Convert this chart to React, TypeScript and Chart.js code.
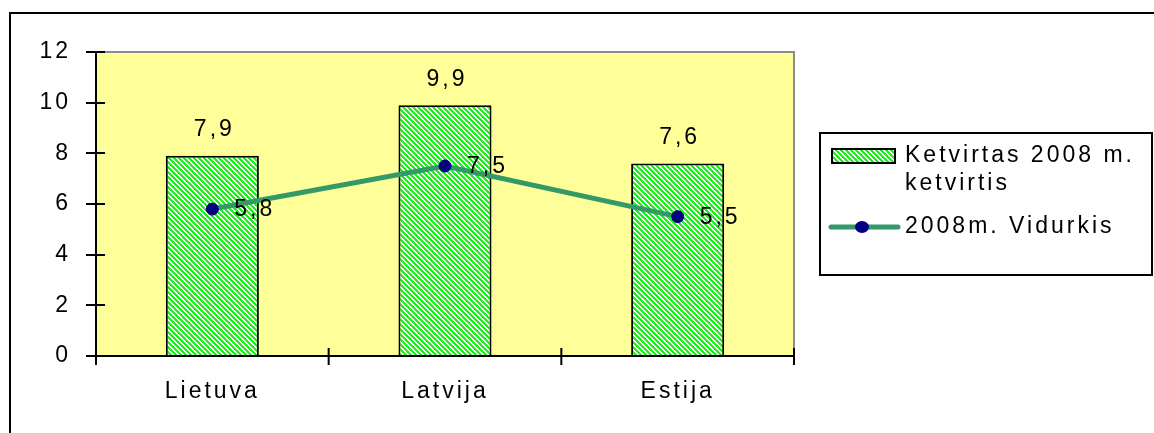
import { useEffect, useRef } from "react";
import { Chart, registerables } from "chart.js";

Chart.register(...registerables);

const categories = ["Lietuva", "Latvija", "Estija"];
const quarterValues = [7.9, 9.9, 7.6];
const averageValues = [5.8, 7.5, 5.5];
const yMin = 0;
const yMax = 12;
const yStep = 2;
const barSeriesLabel = ["Ketvirtas 2008 m.", "ketvirtis"];
const lineSeriesLabel = "2008m. Vidurkis";

const FONT = "'Liberation Sans', Arial, sans-serif";
const FS = 23;
const LS = "3px";
const fmt = (v: number) => v.toFixed(1).replace(".", ",");

function makeHatch(ctx: CanvasRenderingContext2D): CanvasPattern | string {
  const c = document.createElement("canvas");
  const n = 5;
  c.width = n;
  c.height = n;
  const g = c.getContext("2d");
  if (!g) return "#22ee22";
  g.fillStyle = "#ffffff";
  g.fillRect(0, 0, n, n);
  g.fillStyle = "#22ee22";
  for (let y = 0; y < n; y++) {
    for (let x = 0; x < n; x++) {
      if ((x - y + 2 * n) % n < 3) g.fillRect(x, y, 1, 1);
    }
  }
  return ctx.createPattern(c, "repeat") || "#22ee22";
}

export default function App() {
  const ref = useRef<HTMLCanvasElement | null>(null);

  useEffect(() => {
    const canvas = ref.current;
    if (!canvas) return;
    const ctx0 = canvas.getContext("2d");
    if (!ctx0) return;
    const hatch = makeHatch(ctx0);

    const decor = {
      id: "decor",
      beforeDraw(chart: any) {
        const { ctx, chartArea: a } = chart;
        ctx.save();
        ctx.fillStyle = "#ffffff";
        ctx.fillRect(0, 0, chart.width, chart.height);
        ctx.strokeStyle = "#000";
        ctx.lineWidth = 2;
        ctx.strokeRect(10, 13, 1300, 600);
        ctx.fillStyle = "#FFFF99";
        ctx.fillRect(a.left, a.top, a.right - a.left, a.bottom - a.top);
        ctx.strokeStyle = "#8c8c8c";
        ctx.lineWidth = 2;
        ctx.beginPath();
        ctx.moveTo(a.left, a.top);
        ctx.lineTo(a.right, a.top);
        ctx.lineTo(a.right, a.bottom);
        ctx.stroke();
        ctx.restore();
        ctx.letterSpacing = LS;
      },
      afterDraw(chart: any) {
        const { ctx, chartArea: a } = chart;
        const ys = chart.scales.y;
        ctx.save();
        ctx.letterSpacing = LS;
        // axes
        ctx.strokeStyle = "#000";
        ctx.lineWidth = 2;
        ctx.beginPath();
        ctx.moveTo(a.left, a.top);
        ctx.lineTo(a.left, a.bottom);
        ctx.lineTo(a.right, a.bottom);
        ctx.stroke();
        ctx.beginPath();
        for (let v = yMin; v <= yMax; v += yStep) {
          const y = Math.round(ys.getPixelForValue(v));
          ctx.moveTo(a.left - 10, y);
          ctx.lineTo(a.left + 9, y);
        }
        const n = categories.length;
        for (let i = 0; i <= n; i++) {
          const x = a.left + ((a.right - a.left) * i) / n;
          ctx.moveTo(x, a.bottom - 8);
          ctx.lineTo(x, a.bottom + 9);
        }
        ctx.stroke();

        ctx.font = `${FS}px ${FONT}`;
        ctx.fillStyle = "#000";
        // bar labels
        const barMeta = chart.getDatasetMeta(1);
        barMeta.data.forEach((el: any, i: number) => {
          ctx.textAlign = "center";
          ctx.textBaseline = "middle";
          ctx.fillText(fmt(quarterValues[i]), el.x + 2, el.y - 26);
        });
        // line labels
        const lineMeta = chart.getDatasetMeta(0);
        lineMeta.data.forEach((el: any, i: number) => {
          ctx.textAlign = "left";
          ctx.textBaseline = "middle";
          ctx.fillText(fmt(averageValues[i]), el.x + 22, el.y + 1);
        });

        // legend
        const lx = 820, ly = 133, lw = 332, lh = 142;
        ctx.fillStyle = "#fff";
        ctx.fillRect(lx, ly, lw, lh);
        ctx.strokeStyle = "#000";
        ctx.lineWidth = 2;
        ctx.strokeRect(lx, ly, lw, lh);
        ctx.fillStyle = hatch as any;
        ctx.fillRect(832, 149, 63, 14);
        ctx.strokeRect(832, 149, 63, 14);
        ctx.fillStyle = "#000";
        ctx.textAlign = "left";
        ctx.textBaseline = "middle";
        ctx.fillText(barSeriesLabel[0], 905, 156);
        ctx.fillText(barSeriesLabel[1], 905, 184);
        ctx.strokeStyle = "#339966";
        ctx.lineWidth = 5;
        ctx.lineCap = "round";
        ctx.beginPath();
        ctx.moveTo(831, 227);
        ctx.lineTo(898, 227);
        ctx.stroke();
        ctx.fillStyle = "#000080";
        ctx.beginPath();
        ctx.ellipse(862, 227, 7, 6, 0, 0, Math.PI * 2);
        ctx.fill();
        ctx.fillStyle = "#000";
        ctx.fillText(lineSeriesLabel, 905, 227);
        ctx.restore();
      },
    };

    const chart = new Chart(canvas, {
      type: "bar",
      data: {
        labels: categories,
        datasets: [
          {
            type: "line",
            label: lineSeriesLabel,
            data: averageValues,
            borderColor: "#339966",
            borderWidth: 5,
            pointBackgroundColor: "#000080",
            pointBorderColor: "#000080",
            pointRadius: 6,
            pointBorderWidth: 1,
            tension: 0,
            order: 0,
          } as any,
          {
            type: "bar",
            label: barSeriesLabel.join(" "),
            data: quarterValues,
            backgroundColor: hatch as any,
            borderColor: "#000",
            borderWidth: 2,
            barPercentage: 0.4,
            categoryPercentage: 1,
            order: 1,
          } as any,
        ],
      },
      options: {
        animation: false,
        responsive: false,
        layout: { padding: { top: 52, right: 360, left: 0, bottom: 0 } },
        plugins: {
          legend: { display: false },
          tooltip: { enabled: false },
          title: { display: false },
        },
        scales: {
          x: {
            offset: true,
            grid: { display: false, drawTicks: false },
            border: { display: false },
            ticks: {
              color: "#000",
              font: { size: FS, family: FONT },
              padding: 22,
              maxRotation: 0,
            },
            afterFit: (s: any) => {
              s.height = 77;
            },
          },
          y: {
            min: yMin,
            max: yMax,
            grid: { display: false, drawTicks: false },
            border: { display: false },
            ticks: {
              stepSize: yStep,
              color: "#000",
              font: { size: FS, family: FONT },
              padding: 25,
            },
            afterFit: (s: any) => {
              s.width = 96;
            },
          },
        },
      },
      plugins: [decor],
    });
    return () => chart.destroy();
  }, []);

  return (
    <div style={{ position: "absolute", left: 0, top: 0, width: 1154, height: 433 }}>
      <canvas ref={ref} width={1154} height={433} />
    </div>
  );
}
